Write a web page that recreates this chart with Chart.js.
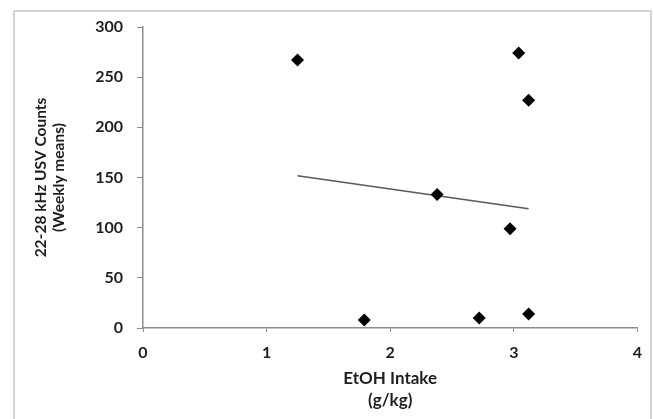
<!DOCTYPE html>
<html>
<head>
<meta charset="utf-8">
<script src="https://cdn.jsdelivr.net/npm/chart.js@4"></script>
<style>
  html, body { margin: 0; padding: 0; background: #fff; }
  #wrap { width: 653px; height: 419px; }
</style>
</head>
<body>
<div id="wrap"><canvas id="chart" width="653" height="419"></canvas></div>
<script>
'use strict';

// EtOH intake (g/kg) and weekly mean USV counts
var intake = [1.25, 1.79, 2.38, 2.72, 2.97, 3.04, 3.12, 3.12];
var usvCounts = [267, 8, 133, 10, 99, 274, 14, 227];
var xTicks = [0, 1, 2, 3, 4];
var yTicks = [0, 50, 100, 150, 200, 250, 300];

var points = intake.map(function(x, i) { return { x: x, y: usvCounts[i] }; });

// linear trendline (least squares), drawn over the data's x range
var n = intake.length;
var mx = intake.reduce(function(a, b) { return a + b; }, 0) / n;
var my = usvCounts.reduce(function(a, b) { return a + b; }, 0) / n;
var sxy = 0, sxx = 0;
intake.forEach(function(x, i) {
  sxy += (x - mx) * (usvCounts[i] - my);
  sxx += (x - mx) * (x - mx);
});
var slope = sxy / sxx;
var icept = my - slope * mx;
var xMin = Math.min.apply(null, intake);
var xMax = Math.max.apply(null, intake);
var trend = [xMin, xMax].map(function(x) { return { x: x, y: icept + slope * x }; });

var family = 'Lato, "Open Sans", sans-serif';
var tickFont = { family: family, size: 16, weight: 'bold' };

// light grey frame round the whole chart
var frame = {
  id: 'frame',
  beforeDraw: function(chart) {
    var ctx = chart.ctx;
    ctx.save();
    ctx.fillStyle = '#fff';
    ctx.fillRect(0, 0, chart.width, chart.height);
    ctx.strokeStyle = '#d4d4d4';
    ctx.lineWidth = 2;
    ctx.strokeRect(14, 11, 637, 420);
    ctx.restore();
  }
};

new Chart(document.getElementById('chart'), {
  type: 'scatter',
  data: {
    datasets: [{
      data: points,
      pointStyle: 'rectRot',
      pointRadius: 6.5,
      backgroundColor: '#000',
      borderColor: '#000',
      borderWidth: 0,
      order: 0
    }, {
      type: 'line',
      data: trend,
      showLine: true,
      borderColor: '#5a5a5a',
      borderWidth: 1.5,
      pointRadius: 0,
      fill: false,
      order: 1
    }]
  },
  options: {
    responsive: false,
    animation: false,
    events: [],
    layout: { padding: { left: 0, top: 27, right: 10, bottom: 0 } },
    plugins: { legend: { display: false }, tooltip: { enabled: false } },
    scales: {
      x: {
        type: 'linear',
        min: 0, max: 4,
        afterBuildTicks: function(s) { s.ticks = xTicks.map(function(v) { return { value: v }; }); },
        afterFit: function(s) { s.height = 91; },
        border: { display: true, color: '#8c8c8c', width: 1.5 },
        grid: { drawOnChartArea: false, drawTicks: true, tickLength: 4, color: '#8c8c8c' },
        ticks: { color: '#1e1e1e', font: tickFont, padding: 11, maxRotation: 0 },
        title: {
          display: true,
          text: ['EtOH Intake', '(g/kg)'],
          color: '#1e1e1e',
          font: { family: family, size: 17, weight: 'bold', lineHeight: 1.3 },
          padding: { top: 0, bottom: 7 }
        }
      },
      y: {
        type: 'linear',
        min: 0, max: 300,
        afterBuildTicks: function(s) { s.ticks = yTicks.map(function(v) { return { value: v }; }); },
        afterFit: function(s) { s.width = 143; },
        border: { display: true, color: '#8c8c8c', width: 1.5 },
        grid: { drawOnChartArea: false, drawTicks: true, tickLength: 6, color: '#8c8c8c' },
        ticks: { color: '#1e1e1e', font: tickFont, padding: 14 },
        title: {
          display: true,
          text: ['22-28 kHz USV Counts', '(Weekly means)'],
          color: '#1e1e1e',
          font: { family: family, size: 15.5, weight: 'bold', lineHeight: 1.15 },
          padding: { top: 32, bottom: 0 }
        }
      }
    }
  },
  plugins: [frame]
});
</script>
</body>
</html>
